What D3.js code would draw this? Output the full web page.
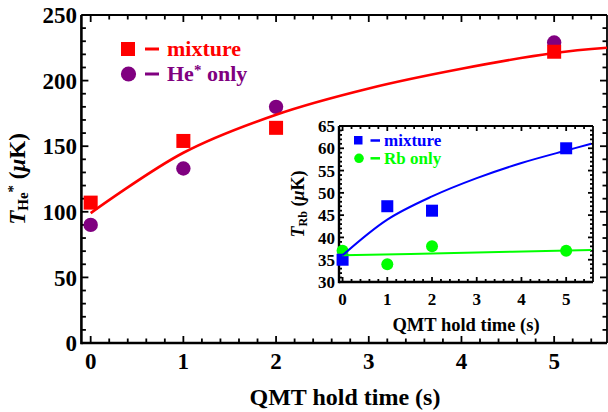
<!DOCTYPE html>
<html>
<head>
<meta charset="utf-8">
<script src="https://cdn.jsdelivr.net/npm/d3@7"></script>
<style>
  body { margin: 0; background: #fff; }
  svg { font-family: "Liberation Serif", "Times New Roman", serif; font-weight: bold; }
</style>
</head>
<body>
<svg id="chart" width="608" height="412"></svg>
<script>
// main plot data (He*)
var holdTime = [0, 1, 2, 5];
var heMixture = [107, 154, 164, 222];
var heOnly = [90, 133, 180, 229];
var heFitT = [0, 1, 2, 3, 4, 5, 5.57];
var heFit = [99, 145, 174, 194, 209, 221, 225];

// inset data (Rb)
var rbMixture = [35, 47, 46, 60];
var rbOnly = [37, 34, 38, 37];
var rbMixFitT = [0, 1, 2, 3, 4, 5, 5.56];
var rbMixFit = [36, 44, 49.2, 53.3, 56.7, 59.5, 61];
var rbOnlyFitT = [0, 2.5, 5.56];
var rbOnlyFit = [36, 36.5, 37.2];

// ticks
var xTicks = [0, 1, 2, 3, 4, 5];
var heYTicks = [0, 50, 100, 150, 200, 250];
var rbYTicks = [30, 35, 40, 45, 50, 55, 60, 65];

var svg = d3.select('#chart');

function frame(g, x, y, xMinor, yMinor, xMajor, yMajor, big, small, thick) {
    var x0 = x.range()[0], x1 = x.range()[1], y0 = y.range()[0], y1 = y.range()[1];
    var t = g.append('g').attr('stroke', 'black').attr('stroke-width', 1.8);
    // minor + major ticks on all four sides, pointing inward
    xMinor.forEach(function (v) {
        var len = xMajor.indexOf(v) >= 0 ? big : small;
        t.append('line').attr('x1', x(v)).attr('x2', x(v)).attr('y1', y0).attr('y2', y0 - len);
        t.append('line').attr('x1', x(v)).attr('x2', x(v)).attr('y1', y1).attr('y2', y1 + len);
    });
    yMinor.forEach(function (v) {
        var len = yMajor.indexOf(v) >= 0 ? big : small;
        t.append('line').attr('y1', y(v)).attr('y2', y(v)).attr('x1', x0).attr('x2', x0 + len);
        t.append('line').attr('y1', y(v)).attr('y2', y(v)).attr('x1', x1).attr('x2', x1 - len);
    });
    g.append('line').attr('x1', x0).attr('x2', x1).attr('y1', y1).attr('y2', y1)
        .attr('stroke', 'black').attr('stroke-width', 1.8);
    g.append('line').attr('x1', x1).attr('x2', x1).attr('y1', y0).attr('y2', y1)
        .attr('stroke', 'black').attr('stroke-width', 1.8);
    g.append('line').attr('x1', x0).attr('x2', x0).attr('y1', y0 + thick / 2).attr('y2', y1)
        .attr('stroke', 'black').attr('stroke-width', thick);
    g.append('line').attr('x1', x0).attr('x2', x1).attr('y1', y0).attr('y2', y0)
        .attr('stroke', 'black').attr('stroke-width', thick);
}

// ---------------- main plot
var x = d3.scaleLinear([-0.1, 5.57], [81.4, 607]);
var y = d3.scaleLinear([0, 250], [343, 15]);

var main = svg.append('g');
frame(main, x, y,
    d3.range(0, 5.6, 0.2).map(v => +v.toFixed(1)),
    d3.range(0, 251, 10),
    xTicks, heYTicks, 7, 4.5, 2.6);

main.append('g').selectAll('text').data(heYTicks).join('text')
    .attr('x', 77).attr('y', d => y(d)).attr('dy', '0.36em')
    .attr('text-anchor', 'end').style('font-size', '23px')
    .text(d => d);
main.append('g').selectAll('text').data(xTicks).join('text')
    .attr('x', d => x(d)).attr('y', 369)
    .attr('text-anchor', 'middle').style('font-size', '23px')
    .text(d => d);

main.append('text').attr('x', 345).attr('y', 405)
    .attr('text-anchor', 'middle').style('font-size', '24px')
    .text('QMT hold time (s)');

var yt = main.append('text').attr('transform', 'translate(25,179) rotate(-90)')
    .attr('text-anchor', 'middle').style('font-size', '23px');
yt.append('tspan').style('font-style', 'italic').text('T');
yt.append('tspan').attr('dy', 3).style('font-size', '15px').text('He');
yt.append('tspan').attr('dy', -10).style('font-size', '15px').text('*');
yt.append('tspan').attr('dy', 7).text(' (');
yt.append('tspan').style('font-style', 'italic').text('μ');
yt.append('tspan').text('K)');

var line = d3.line().x(d => x(d[0])).y(d => y(d[1])).curve(d3.curveCatmullRom);

main.append('g').selectAll('circle').data(d3.zip(holdTime, heOnly)).join('circle')
    .attr('cx', d => x(d[0])).attr('cy', d => y(d[1])).attr('r', 7.2)
    .attr('fill', '#800080');
main.append('g').selectAll('rect').data(d3.zip(holdTime, heMixture)).join('rect')
    .attr('x', d => x(d[0]) - 7).attr('y', d => y(d[1]) - 7)
    .attr('width', 14).attr('height', 14).attr('fill', '#ff0000');
main.append('path').attr('d', line(d3.zip(heFitT, heFit)))
    .attr('fill', 'none').attr('stroke', '#ff0000').attr('stroke-width', 2.6);

// legend
main.append('rect').attr('x', 121).attr('y', 42).attr('width', 14).attr('height', 14).attr('fill', '#ff0000');
main.append('line').attr('x1', 145).attr('x2', 159).attr('y1', 49).attr('y2', 49)
    .attr('stroke', '#ff0000').attr('stroke-width', 3);
main.append('text').attr('x', 167).attr('y', 56).attr('fill', '#ff0000')
    .style('font-size', '22px').text('mixture');
main.append('circle').attr('cx', 128.5).attr('cy', 74).attr('r', 7.6).attr('fill', '#800080');
main.append('line').attr('x1', 145).attr('x2', 159).attr('y1', 74).attr('y2', 74)
    .attr('stroke', '#800080').attr('stroke-width', 3);
var lg = main.append('text').attr('x', 167).attr('y', 81).attr('fill', '#800080')
    .style('font-size', '22px');
lg.append('tspan').text('He');
lg.append('tspan').attr('dy', -6).style('font-size', '15px').text('*');
lg.append('tspan').attr('dy', 6).text(' only');

// ---------------- inset
var xi = d3.scaleLinear([-0.08, 5.6], [339, 593]);
var yi = d3.scaleLinear([30, 65], [282, 126]);

var inset = svg.append('g');
inset.append('rect').attr('x', 339).attr('y', 126).attr('width', 254).attr('height', 156).attr('fill', '#fff');
frame(inset, xi, yi,
    d3.range(0, 5.6, 0.2).map(v => +v.toFixed(1)),
    d3.range(30, 66, 1),
    xTicks, rbYTicks, 5, 3, 2.4);

inset.append('g').selectAll('text').data(rbYTicks).join('text')
    .attr('x', 335).attr('y', d => yi(d)).attr('dy', '0.36em')
    .attr('text-anchor', 'end').style('font-size', '17px')
    .text(d => d);
inset.append('g').selectAll('text').data(xTicks).join('text')
    .attr('x', d => xi(d)).attr('y', 305)
    .attr('text-anchor', 'middle').style('font-size', '17px')
    .text(d => d);
inset.append('text').attr('x', 466).attr('y', 331)
    .attr('text-anchor', 'middle').style('font-size', '18.5px')
    .text('QMT hold time (s)');

var yti = inset.append('text').attr('transform', 'translate(304,204) rotate(-90)')
    .attr('text-anchor', 'middle').style('font-size', '18px');
yti.append('tspan').style('font-style', 'italic').text('T');
yti.append('tspan').attr('dy', 3).style('font-size', '12px').text('Rb');
yti.append('tspan').attr('dy', -3).text(' (');
yti.append('tspan').style('font-style', 'italic').text('μ');
yti.append('tspan').text('K)');

var linei = d3.line().x(d => xi(d[0])).y(d => yi(d[1])).curve(d3.curveCatmullRom);

inset.append('g').selectAll('circle').data(d3.zip(holdTime, rbOnly)).join('circle')
    .attr('cx', d => xi(d[0])).attr('cy', d => yi(d[1])).attr('r', 6)
    .attr('fill', '#00ff00');
inset.append('g').selectAll('rect').data(d3.zip(holdTime, rbMixture)).join('rect')
    .attr('x', d => xi(d[0]) - 6).attr('y', d => yi(d[1]) - 6)
    .attr('width', 12).attr('height', 12).attr('fill', '#0000ff');
inset.append('path').attr('d', linei(d3.zip(rbOnlyFitT, rbOnlyFit)))
    .attr('fill', 'none').attr('stroke', '#00ff00').attr('stroke-width', 2);
inset.append('path').attr('d', linei(d3.zip(rbMixFitT, rbMixFit)))
    .attr('fill', 'none').attr('stroke', '#0000ff').attr('stroke-width', 2);

// inset legend
inset.append('rect').attr('x', 354).attr('y', 136).attr('width', 8.5).attr('height', 8.5).attr('fill', '#0000ff');
inset.append('line').attr('x1', 370.5).attr('x2', 380).attr('y1', 140.5).attr('y2', 140.5)
    .attr('stroke', '#0000ff').attr('stroke-width', 2.5);
inset.append('text').attr('x', 384).attr('y', 145.5).attr('fill', '#0000ff')
    .style('font-size', '17px').text('mixture');
inset.append('circle').attr('cx', 359).attr('cy', 158.3).attr('r', 4.8).attr('fill', '#00ff00');
inset.append('line').attr('x1', 370.5).attr('x2', 380).attr('y1', 158.3).attr('y2', 158.3)
    .attr('stroke', '#00ff00').attr('stroke-width', 2.5);
inset.append('text').attr('x', 384).attr('y', 163.5).attr('fill', '#00ff00')
    .style('font-size', '17px').text('Rb only');
</script>
</body>
</html>
